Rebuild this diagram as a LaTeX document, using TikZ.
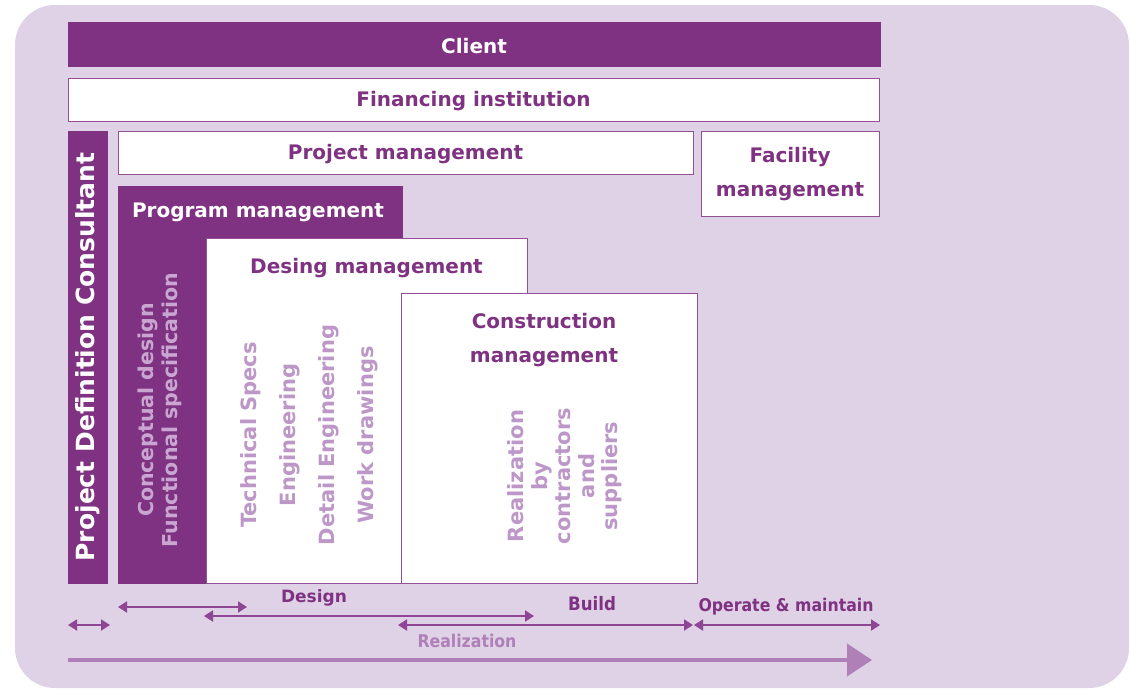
\documentclass[tikz,border=0pt]{standalone}
\usepackage{fontspec}
\setmainfont{DejaVu Sans}
\newfontfamily\condfont{DejaVu Sans Condensed}
\usepackage{tikz}
\usetikzlibrary{positioning, arrows.meta}
\definecolor{plum}{HTML}{7F3281}
\definecolor{lilac}{HTML}{DFD1E6}
\definecolor{mauve}{HTML}{BD97C8}
\definecolor{mauvepale}{HTML}{C9A6D1}
\definecolor{spanline}{HTML}{8E4594}
\definecolor{flow}{HTML}{AE80B7}
\tikzset{
    darkbox/.style={rectangle, fill=plum, draw=plum, anchor=north west, inner sep=0pt, outer sep=0pt},
    whitebox/.style={rectangle, fill=white, draw=plum!85, line width=0.9pt, anchor=north west, inner sep=0pt, outer sep=0pt},
    title/.style={font=\bfseries\fontsize{20}{34}\selectfont, text=plum, align=center, inner sep=0pt, yshift=-2pt},
    softtext/.style={font=\bfseries\fontsize{21}{24}\selectfont, text=mauve, align=center, inner sep=0pt, rotate=90},
    phase/.style={font=\bfseries\fontsize{17}{20}\selectfont, text=plum, inner sep=0pt},
    span/.style={{Triangle[length=9pt,width=11pt]}-{Triangle[length=9pt,width=11pt]}, line width=1.8pt, draw=spanline},
    flowarrow/.style={-{Triangle[length=25pt,width=32pt]}, line width=4pt, draw=flow}
}
\begin{document}
\begin{tikzpicture}[x=1pt, y=-1pt]
    \useasboundingbox (0,0) rectangle (1131,689);
    % Background
    \fill[lilac, rounded corners=40pt] (15,5) rectangle (1129,688);

    % Top bars
    \node[darkbox, minimum width=812pt, minimum height=44pt] (client) at (68,22) {};
    \node[title, text=white] at (client.center) {Client};
    \node[whitebox, minimum width=811pt, minimum height=43pt] (finance) at (68,78) {};
    \node[title] at (finance.center) {Financing institution};

    % Consultant column
    \node[darkbox, minimum width=39pt, minimum height=452pt] (pdc) at (68,131) {};
    \node[font=\bfseries\fontsize{25}{28}\selectfont, text=white, rotate=90] at (pdc.center) {Project Definition Consultant};

    % Management layers
    \node[whitebox, minimum width=575pt, minimum height=43pt] (projmgmt) at (118,131) {};
    \node[title] at (projmgmt.center) {Project management};
    \node[whitebox, minimum width=178pt, minimum height=85pt] (facility) at (701,131) {};
    \node[title, yshift=1pt] at (facility.center) {Facility\\management};

    \node[darkbox, minimum width=284pt, minimum height=397pt] (progmgmt) at (118,186) {};
    \node[title, text=white, below=15pt of progmgmt.north, xshift=-2pt] (progtitle) {Program management};
    \node[softtext, text=mauvepale, font=\bfseries\fontsize{20.5}{24}\selectfont] (progtext) at (160,410) {Conceptual design\\Functional specification};

    \node[whitebox, minimum width=321pt, minimum height=345pt] (desmgmt) at (206,238) {};
    \node[title, below=18pt of desmgmt.north] (destitle) {Desing management};
    \node[softtext, font=\bfseries\fontsize{21}{39}\selectfont] (destext) at (309,435) {Technical Specs\\Engineering\\Detail Engineering\\Work drawings};

    \node[whitebox, minimum width=296pt, minimum height=290pt] (constmgmt) at (401,293) {};
    \node[title, below=18pt of constmgmt.north, xshift=-5pt] (consttitle) {Construction\\management};
    \node[softtext, font=\bfseries\fontsize{21}{23.5}\selectfont] (consttext) at (565,476) {Realization\\by\\contractors\\and\\suppliers};

    % Phase spans
    \coordinate (pdcL) at (68,625);
    \coordinate (pdcR) at (110,625);
    \coordinate (desL) at (118,607);
    \coordinate (desR) at (247,607);
    \coordinate (engL) at (204,616);
    \coordinate (engR) at (534,616);
    \coordinate (bldL) at (398,625);
    \coordinate (bldR) at (693,625);
    \coordinate (opsL) at (694,625);
    \coordinate (opsR) at (880,625);
    \draw[span] (pdcL) -- (pdcR);
    \draw[span] (desL) -- (desR);
    \draw[span] (engL) -- (engR);
    \draw[span] (bldL) -- (bldR);
    \draw[span] (opsL) -- (opsR);

    \node[phase] (design) at (314,598) {Design};
    \node[phase, font=\condfont\bfseries\fontsize{18.5}{20}\selectfont] (build) at (592,604) {Build};
    \node[phase, font=\condfont\bfseries\fontsize{17.5}{20}\selectfont] (operate) at (786,607) {Operate \& maintain};
    \node[phase, text=flow, font=\condfont\bfseries\fontsize{17.5}{20}\selectfont] (realize) at (467,641) {Realization};

    % Time line
    \coordinate (flowL) at (68,660);
    \coordinate (flowR) at (872,660);
    \draw[flowarrow] (flowL) -- (flowR);
\end{tikzpicture}
\end{document}
